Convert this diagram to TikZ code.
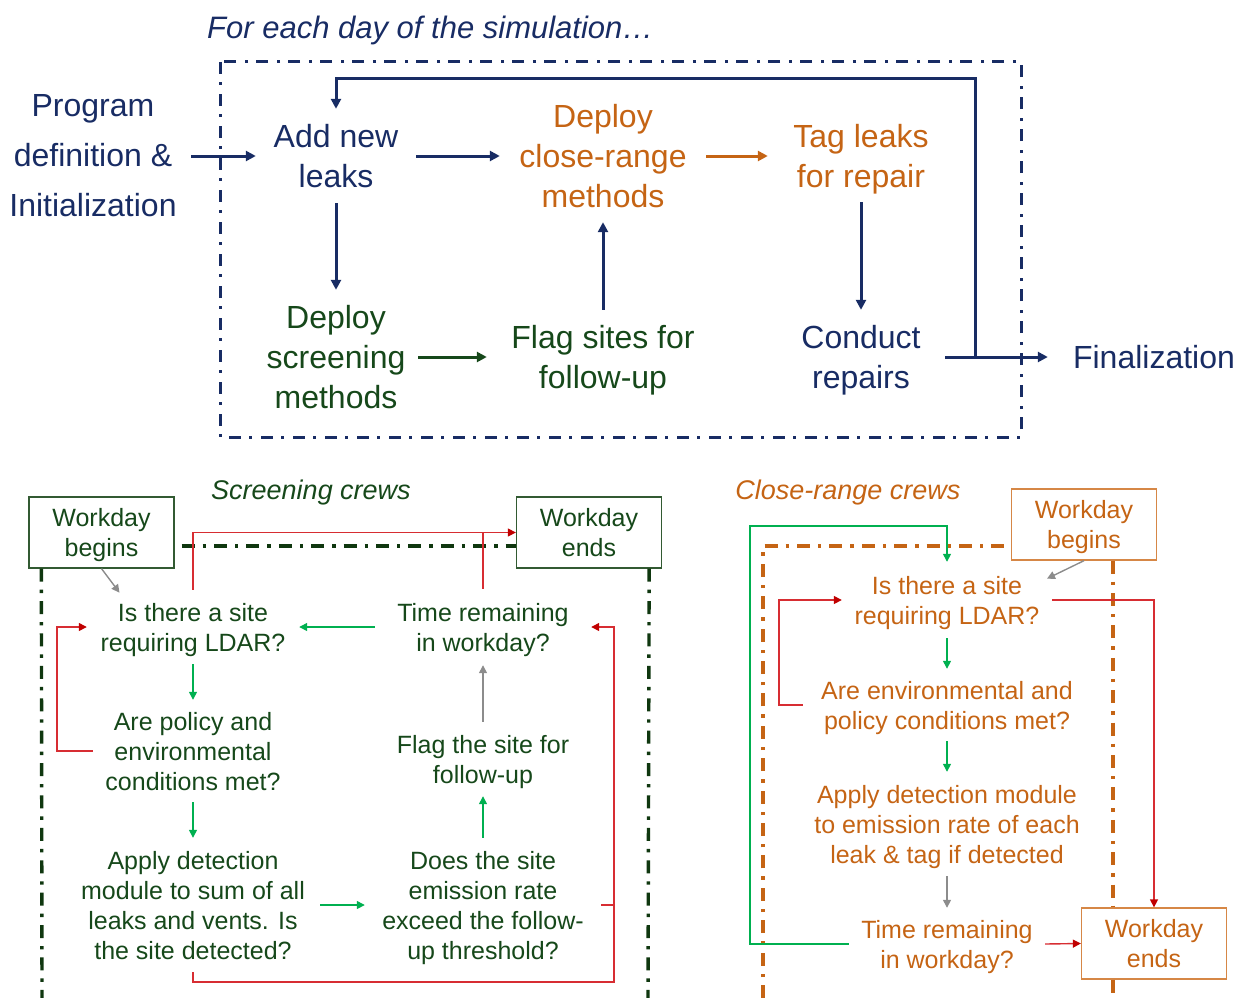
\documentclass[tikz,border=0pt]{standalone}
\usepackage{fontspec}
\setmainfont{Liberation Sans}
\usetikzlibrary{arrows.meta,calc}
\definecolor{navy}{RGB}{24,44,100}
\definecolor{orng}{RGB}{197,100,20}
\definecolor{orngbox}{RGB}{214,135,70}
\definecolor{dgreen}{RGB}{22,72,26}
\definecolor{dgbox}{RGB}{50,90,50}
\definecolor{ddash}{RGB}{15,55,15}
\definecolor{lgreen}{RGB}{0,176,80}
\definecolor{redl}{RGB}{215,45,50}
\definecolor{redd}{RGB}{192,0,0}
\definecolor{grayl}{RGB}{140,140,140}
\begin{document}
\begin{tikzpicture}[x=1pt,y=-1pt,
  big/.style={font=\fontsize{32}{40}\selectfont, align=center, inner sep=0pt, text depth=0pt},
  small/.style={font=\fontsize{25}{30}\selectfont, align=center, inner sep=0pt, text depth=0pt},
  sz/.style 2 args={minimum width=#1pt, minimum height=#2pt},
  wbox/.style={small, draw, line width=1.3pt, minimum width=145pt, minimum height=71pt},
  tarr/.style={line width=3pt, -{Triangle[length=10pt,width=10pt]}},
  bline/.style={line width=1.4pt},
  barr/.style={line width=1.4pt, -{Triangle[length=8pt,width=8pt]}},
  rarr/.style={line width=1.4pt, -{Triangle[length=8pt,width=8pt,color=redd]}},
  ddash/.style={line width=3pt, dash pattern=on 12pt off 8pt on 3pt off 9pt},
  bdash/.style={line width=3.4pt, dash pattern=on 13pt off 8pt on 3.4pt off 8pt},
]
\useasboundingbox (0,0) rectangle (1239,998);

% ---------- top section ----------
\node[anchor=west, text=navy, font=\fontsize{31}{36}\selectfont\itshape, inner sep=0pt] (title) at (207,30) {For each day of the simulation…};
\draw[ddash, navy] (220,62) rectangle (1021,437);

\node[big, text=navy, font=\fontsize{32}{50}\selectfont, sz={196}{120}] (prog) at (93,155) {Program\\definition \&\\Initialization};
\node[big, text=navy, sz={160}{94}] (add) at (336,156) {Add new\\leaks};
\node[big, text=orng, sz={206}{132}] (close) at (603,156) {Deploy\\close-range\\methods};
\node[big, text=orng, sz={186}{92}] (tag) at (861,156) {Tag leaks\\for repair};
\node[big, text=dgreen, sz={164}{134}] (screen) at (336,357) {Deploy\\screening\\methods};
\node[big, text=dgreen, sz={232}{94}] (flag) at (603,357) {Flag sites for\\follow-up};
\node[big, text=navy, sz={168}{94}] (conduct) at (861,357) {Conduct\\repairs};
\node[big, text=navy, sz={212}{60}] (final) at (1154,357) {Finalization};

\draw[tarr, navy] (prog.east |- add.west) -- (add.west);
\draw[tarr, navy] (add.east) -- (close.west);
\draw[tarr, orng] (close.east) -- (tag.west);
\draw[tarr, navy] (add.south) -- (screen.north);
\draw[tarr, dgreen] (screen.east) -- (flag.west);
\draw[tarr, navy] (flag.north) -- (close.south);
\draw[tarr, navy] (tag.south) -- (conduct.north);
\draw[tarr, navy] (conduct.east) -- (final.west);
\coordinate (fb) at (975,357);
\coordinate (fbtop) at (975,78);
\draw[tarr, navy] (fb) -- (fbtop) -| (add.north);

% ---------- screening crews ----------
\node[anchor=center, text=dgreen, font=\fontsize{27}{30}\selectfont\itshape, inner sep=0pt] (scr) at (311,493) {Screening crews};
\node[wbox, draw=dgbox, text=dgreen] (wb1) at (101.5,532.5) {Workday\\begins};
\node[wbox, draw=dgbox, text=dgreen] (we1) at (589,532.5) {Workday\\ends};
\node[small, text=dgreen, sz={212}{74}] (q1) at (193,627) {Is there a site\\requiring LDAR?};
\node[small, text=dgreen, sz={216}{76}] (t1) at (483,627) {Time remaining\\in workday?};
\node[small, text=dgreen, sz={200}{102}] (p1) at (193,751) {Are policy and\\environmental\\conditions met?};
\node[small, text=dgreen, sz={254}{134}] (a1) at (193,905) {Apply detection\\module to sum of all\\leaks and vents. Is\\the site detected?};
\node[small, text=dgreen, sz={236}{134}] (d1) at (483,905) {Does the site\\emission rate\\exceed the follow-\\up threshold?};
\node[small, text=dgreen, sz={200}{74}] (f1) at (483,759) {Flag the site for\\follow-up};

\draw[bdash, color=ddash] ($(wb1.east)+(7,13.5)$) -- ($(we1.west)+(0,13.5)$);
\draw[bdash, color=ddash] ($(wb1.south west)+(13,0)$) -- (42,998);
\draw[bdash, color=ddash] ($(we1.south east)+(-13,0)$) -- (648,998);

\draw[barr, grayl] (wb1.south) -- ++(18,24);
\draw[rarr, redl] (q1.north) |- (we1.west);
\draw[bline, redl] (t1.north) -- (t1.north |- we1.west);
\draw[barr, lgreen] (t1.west) -- (q1.east);
\draw[rarr, redl] (p1.west) -- ++(-36,0) |- (q1.west);
\draw[barr, lgreen] (q1.south) -- (p1.north);
\draw[barr, lgreen] (p1.south) -- (a1.north);
\draw[barr, lgreen] (a1.east) -- (d1.west);
\draw[barr, lgreen] (d1.north) -- (f1.south);
\draw[barr, grayl] (f1.north) -- (t1.south);
\coordinate (rb) at (614,982);
\draw[rarr, redl] (a1.south) |- (rb) |- (t1.east);
\draw[bline, redl] (d1.east) -- (d1.east -| rb);

% ---------- close-range crews ----------
\node[anchor=center, text=orng, font=\fontsize{27}{30}\selectfont\itshape, inner sep=0pt] (crc) at (848,493) {Close-range crews};
\node[wbox, draw=orngbox, text=orng] (wb2) at (1084,524.5) {Workday\\begins};
\node[wbox, draw=orngbox, text=orng] (we2) at (1154,943.5) {Workday\\ends};
\node[small, text=orng, sz={210}{76}] (q2) at (947,600) {Is there a site\\requiring LDAR?};
\node[small, text=orng, sz={288}{72}] (e2) at (947,705) {Are environmental and\\policy conditions met?};
\node[small, text=orng, sz={280}{104}] (m2) at (947,824) {Apply detection module\\to emission rate of each\\leak \& tag if detected};
\node[small, text=orng, sz={196}{72}] (t2) at (947,944) {Time remaining\\in workday?};

\draw[bdash, color=orng] (763,998) -- (763,546) -- (wb2.west |- 763,546);
\draw[bdash, color=orng] ($(wb2.south)+(29,0)$) -- ($(we2.north)+(-41,0)$);
\draw[bdash, color=orng] ($(we2.south)+(-41,0)$) -- (1113,998);

\draw[barr, grayl] (wb2.south) -- ++(-37,18);
\draw[rarr, redl] (q2.east) -| (we2.north);
\coordinate (gl) at (750,526);
\draw[barr, lgreen] (t2.west) -| (gl) -| (q2.north);
\draw[rarr, redl] (e2.west) -- ++(-24,0) |- (q2.west);
\draw[barr, lgreen] (q2.south) -- (e2.north);
\draw[barr, lgreen] (e2.south) -- (m2.north);
\draw[barr, grayl] (m2.south) -- (t2.north);
\draw[rarr, redl] (t2.east) -- (we2.west);
\end{tikzpicture}
\end{document}
